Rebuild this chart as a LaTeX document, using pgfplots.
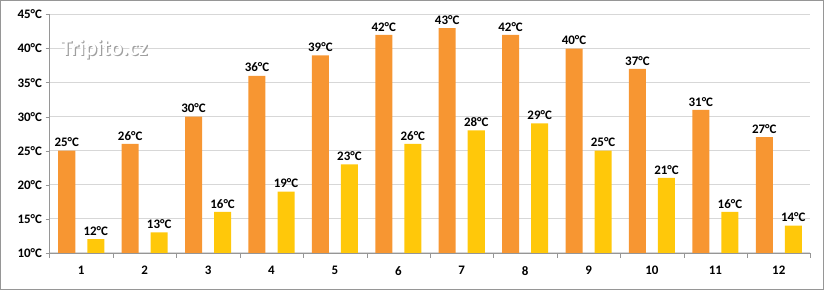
\documentclass[border=0pt]{standalone}
\usepackage{pgfplots}
\pgfplotsset{compat=1.18}
\usepackage{fontspec}
\setmainfont{Carlito}
\definecolor{orangebar}{RGB}{247,150,50}
\definecolor{yellowbar}{RGB}{255,200,10}
\definecolor{gridc}{RGB}{215,215,215}
\definecolor{axc}{RGB}{150,150,150}
\begin{document}
\begin{tikzpicture}
\begin{axis}[
  name=ax,
  scale only axis,
  width=760bp, height=238bp,
  xmin=0.5, xmax=12.5,
  ymin=10, ymax=45,
  ybar,
  bar width=17bp,
  /pgf/number format/assume math mode=true,
  ytick={10,15,...,45},
  yticklabels={10°C,15°C,20°C,25°C,30°C,35°C,40°C,45°C},
  xtick={1,...,12},
  xticklabels={1,2,3,4,5,6,7,8,9,10,11,12},
  minor xtick={0.5,1.5,...,12.5},
  major x tick style={draw=none},
  minor x tick style={draw=axc},
  minor tick length=5bp,
  y tick style={draw=axc},
  major tick length=4bp,
  tick align=outside,
  ymajorgrids,
  grid style={draw=gridc, line width=0.8pt},
  axis x line*=bottom,
  axis y line*=left,
  axis line style={draw=axc, line width=0.6pt},
  tick label style={font=\bfseries\fontsize{13}{13}\selectfont},
  xticklabel style={yshift=-6bp},
  nodes near coords={\pgfmathprintnumber{\pgfplotspointmeta}°C},
  every node near coord/.append style={font=\bfseries\fontsize{13}{13}\selectfont, black, inner sep=1.5pt, yshift=2bp},
  clip=false,
]
\addplot[fill=orangebar, draw=none, bar shift=-14.5bp] coordinates {
(1,25) (2,26) (3,30) (4,36) (5,39) (6,42) (7,43) (8,42) (9,40) (10,37) (11,31) (12,27)};
\addplot[fill=yellowbar, draw=none, bar shift=14.5bp] coordinates {
(1,12) (2,13) (3,16) (4,19) (5,23) (6,26) (7,28) (8,29) (9,25) (10,21) (11,16) (12,14)};
\node[anchor=west, text=gray!75, font=\bfseries\fontsize{23}{23}\selectfont] at ([shift={(1.2bp,-1.2bp)}]axis cs:0.62,39.9) {Tripito.cz};
\node[anchor=west, text=white, font=\bfseries\fontsize{23}{23}\selectfont] at (axis cs:0.62,39.9) {Tripito.cz};
\end{axis}
\draw[axc, line width=1pt] ([shift={(-49bp,-37bp)}]ax.south west) rectangle ([shift={(13bp,14bp)}]ax.north east);
\end{tikzpicture}
\end{document}
